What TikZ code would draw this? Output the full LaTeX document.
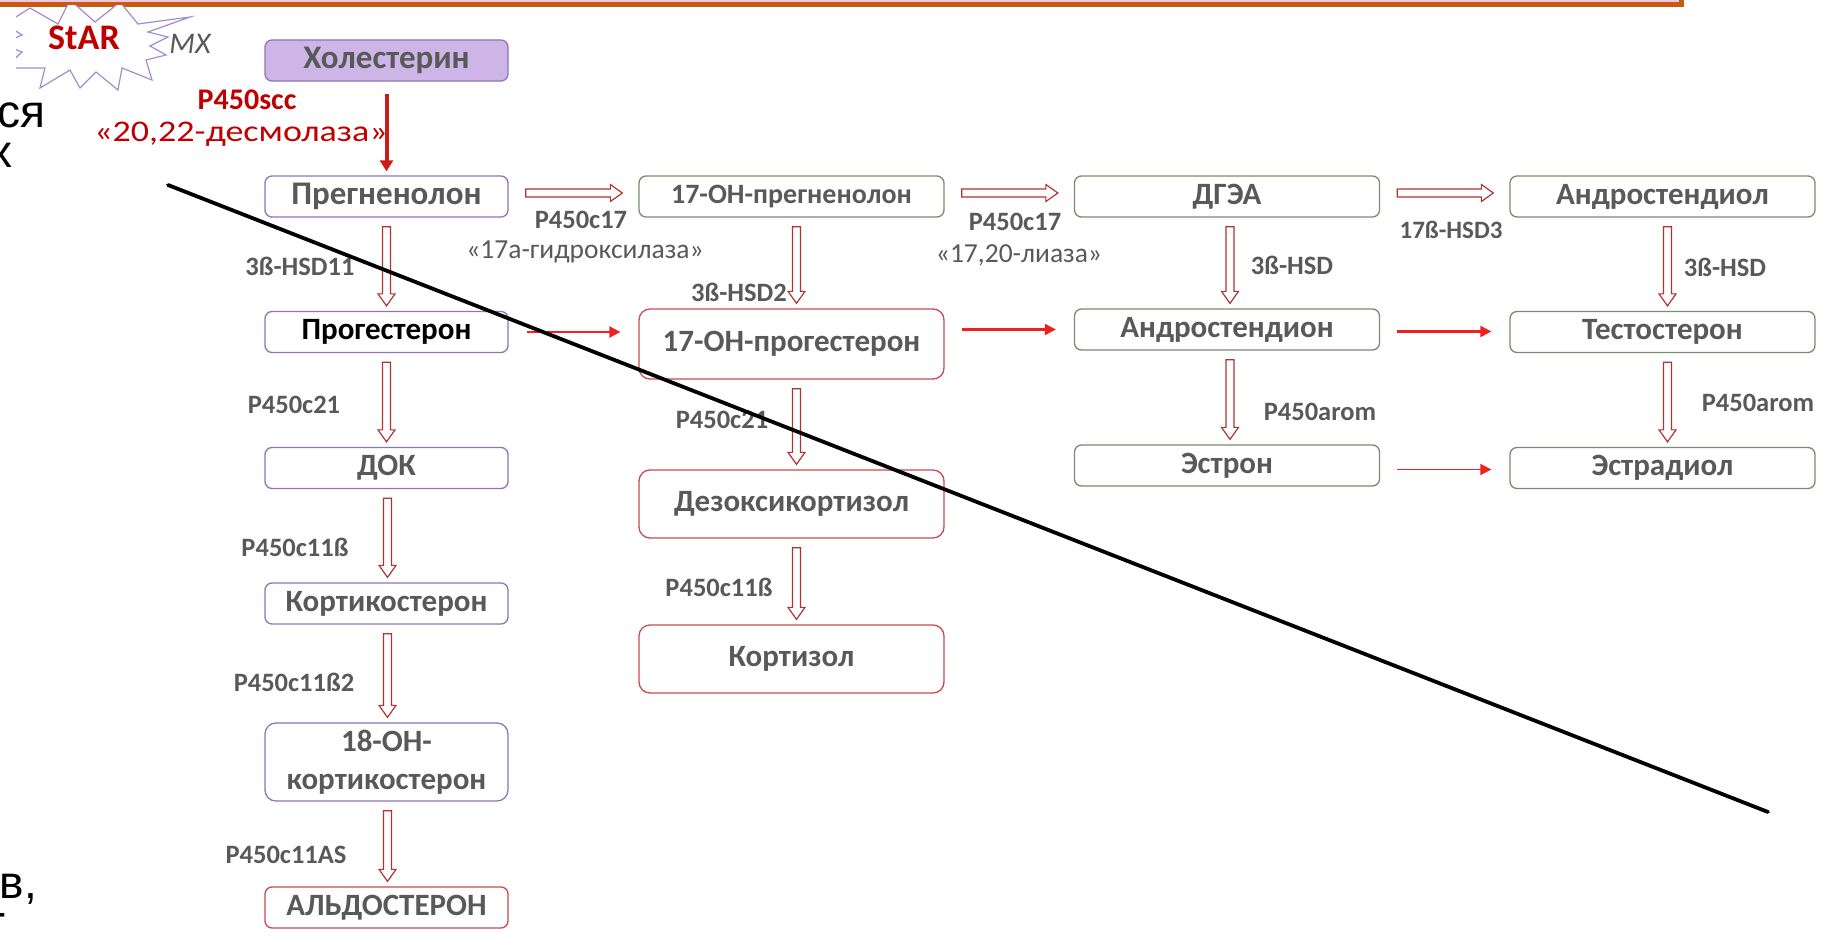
\documentclass[tikz,border=0pt]{standalone}
\usepackage{fontspec}
\usepackage{graphicx}
\setmainfont{Carlito}
\newfontfamily\arialf{Liberation Sans}
\usetikzlibrary{arrows.meta,calc}
\definecolor{txtgray}{HTML}{595959}
\definecolor{purpb}{HTML}{8E74B8}
\definecolor{purpfill}{HTML}{CDB5E8}
\definecolor{greenb}{HTML}{7A8C6E}
\definecolor{redb}{HTML}{C94A50}
\definecolor{holred}{HTML}{B03434}
\definecolor{brightred}{HTML}{F02020}
\definecolor{darkred}{HTML}{C00000}
\definecolor{barorange}{HTML}{C55A11}
\definecolor{barpink}{HTML}{F2C6DE}
\definecolor{starc}{HTML}{A48BD0}
\newcommand\hdown[3]{%
 \draw[holl] let \p1=(#1.south), \p2=(#2.north) in
   (\x1+#3-4pt,\y1-9pt) -- (\x1+#3-4pt,\y2+17pt) -- (\x1+#3-8.5pt,\y2+17pt) --
   (\x1+#3,\y2+5pt) -- (\x1+#3+8.5pt,\y2+17pt) -- (\x1+#3+4pt,\y2+17pt) --
   (\x1+#3+4pt,\y1-9pt) -- cycle;}
\newcommand\hright[2]{%
 \draw[holl] let \p1=(#1.east), \p2=(#2.west) in
   (\x1+17pt,\y1+7.5pt) -- (\x2-28pt,\y1+7.5pt) -- (\x2-28pt,\y1+12pt) --
   (\x2-16pt,\y1+3.5pt) -- (\x2-28pt,\y1-5pt) -- (\x2-28pt,\y1-0.5pt) --
   (\x1+17pt,\y1-0.5pt) -- cycle;}
\tikzset{
  box/.style={rectangle, rounded corners=7pt, line width=1.3pt, inner sep=0pt,
    font=\bfseries\fontsize{31}{38}\selectfont, text=txtgray, align=center},
  pbox/.style={box, draw=purpb, minimum width=243pt, minimum height=41pt},
  gbox/.style={box, draw=greenb, minimum width=305pt, minimum height=41pt},
  rbox/.style={box, draw=redb, minimum width=305pt, minimum height=69pt, rounded corners=11pt},
  enz/.style={inner sep=0pt, font=\bfseries\fontsize{26.5}{30}\selectfont, text=txtgray},
  ann/.style={inner sep=0pt, font=\fontsize{27.5}{30}\selectfont, text=txtgray},
  holl/.style={draw=holred, fill=white, line width=1.2pt, line join=miter},
  redarr/.style={draw=brightred, line width=2.2pt, -{Triangle[width=11pt,length=11pt]}},
  frag/.style={inner sep=0pt, font=\arialf\fontsize{46}{50}\selectfont, text=black},
}
\begin{document}
\begin{tikzpicture}[x=1pt,y=-1pt]
\useasboundingbox (0,0) rectangle (1823,942);
\fill[white] (0,0) rectangle (1823,942);
% top bar
\fill[barpink] (0,-5) rectangle (1681,3);
\draw[barorange, line width=5pt] (-5,4.5) -- (1681,4.5) -- (1681,-5);
% starburst
\begin{scope}
\clip (16,6) rectangle (300,100);
\draw[starc, line width=1.2pt, fill=white] (30,8) -- (58,24) -- (70,0) -- (95,22) -- (120,2) -- (138,24)
  -- (190,17) -- (148,32) -- (168,37) -- (150,46) -- (166,55) -- (146,60) -- (152,80) -- (122,68)
  -- (118,90) -- (96,72) -- (80,88) -- (70,70) -- (40,88) -- (45,68) -- (5,68) -- (22,52)
  -- (2,44) -- (22,35) -- (5,24) -- cycle;
\end{scope}
\node[inner sep=0pt, font=\bfseries\fontsize{36}{40}\selectfont, text=darkred] (star) at (84,38) {StAR};
\node[inner sep=0pt, font=\itshape\fontsize{30}{34}\selectfont, text=txtgray] (mx) at (190,44) {MX};
% left fragments
\node[frag, anchor=base east] (f1) at (46,127) {ся};
\node[frag, anchor=base east] (f2) at (13,167) {х};
\node[frag, anchor=base east] (f3) at (37,898) {в,};
\node[frag, anchor=base east] (f4) at (7,927) {-};
% column 1
\node[pbox, fill=purpfill, font=\bfseries\fontsize{33}{38}\selectfont] (chol) at (386.5,60.5) {Холестерин};
\node[pbox, font=\bfseries\fontsize{33}{38}\selectfont] (preg) at (386.5,196.5) {Прегненолон};
\node[pbox, text=black] (prog) at (386.5,332) {Прогестерон};
\node[pbox] (dok) at (386.5,468) {ДОК};
\node[pbox] (kst) at (386.5,603.5) {Кортикостерон};
\node[pbox, minimum height=78pt, rounded corners=11pt] (oh18) at (386.5,762) {18-OH-\\кортикостерон};
\node[pbox, draw=redb] (aldo) at (386.5,907.5) {АЛЬДОСТЕРОН};
% column 2
\node[gbox, font=\bfseries\fontsize{28}{34}\selectfont] (ohpreg) at (791.5,196.5) {17-OH-прегненолон};
\node[rbox, minimum height=70pt] (ohprog) at (791.5,344) {17-OH-прогестерон};
\node[rbox, minimum height=68pt] (dezoxy) at (791.5,504) {Дезоксикортизол};
\node[rbox, minimum height=68pt] (kortizol) at (791.5,659) {Кортизол};
% column 3
\node[gbox] (dgea) at (1227,196.5) {ДГЭА};
\node[gbox] (andron) at (1227,329.5) {Андростендион};
\node[gbox] (estron) at (1227,465.5) {Эстрон};
% column 4
\node[gbox] (androl) at (1662.5,196.5) {Андростендиол};
\node[gbox] (testo) at (1662.5,332) {Тестостерон};
\node[gbox] (estrad) at (1662.5,468) {Эстрадиол};
% cholesterol arrow
\draw[draw=brightred!85!black, line width=4pt, -{Triangle[width=13pt,length=11pt]}] ($(chol.south)+(0,12)$) -- ($(preg.north)+(0,-4)$);
\node[inner sep=0pt, font=\bfseries\fontsize{30}{34}\selectfont, text=darkred] (scc) at (247,100) {P450scc};
\node[inner sep=0pt, anchor=east, font=\fontsize{30}{34}\selectfont, text=darkred] (desm) at (388,134) {\scalebox{1.2}[1]{«20,22-десмолаза»}};
% hollow arrows
\hright{preg}{ohpreg}
\hright{ohpreg}{dgea}
\hright{dgea}{androl}
\hdown{preg}{prog}{0pt}
\hdown{prog}{dok}{0pt}
\hdown{dok}{kst}{1pt}
\hdown{kst}{oh18}{1pt}
\hdown{oh18}{aldo}{1pt}
\hdown{ohpreg}{ohprog}{5pt}
\hdown{ohprog}{dezoxy}{5pt}
\hdown{dezoxy}{kortizol}{5pt}
\hdown{dgea}{andron}{3pt}
\hdown{andron}{estron}{3pt}
\hdown{androl}{testo}{5pt}
\hdown{testo}{estrad}{5pt}
% red solid arrows
\draw[redarr] ($(prog.east)+(18,0)$) -- ($(ohprog.west|-prog.east)+(-18,0)$);
\draw[redarr] ($(ohprog.east|-andron.west)+(17,0)$) -- ($(andron.west)+(-18,0)$);
\draw[redarr] ($(andron.east)+(17,2)$) -- ($(testo.west|-andron.east)+(-18,2)$);
\draw[redarr, line width=1.6pt] ($(estron.east)+(17,4)$) -- ($(estrad.west|-estron.east)+(-18,4)$);
% enzyme labels
\node[enz] (l1) at (581,220) {P450c17};
\node[ann] (a1) at (585,252) {«17а-гидроксилаза»};
\node[enz] (l2) at (1015,222) {P450c17};
\node[ann] (a2) at (1019,255) {«17,20-лиаза»};
\node[enz, font=\bfseries\fontsize{25}{30}\selectfont] (l3) at (1451,230) {17ß-HSD3};
\node[enz] (l4) at (300,266) {3ß-HSD11};
\node[enz] (l5) at (294,405) {P450c21};
\node[enz] (l6) at (295,547) {P450c11ß};
\node[enz] (l7) at (294,682) {P450c11ß2};
\node[enz] (l8) at (286,855) {P450c11AS};
\node[enz] (l9) at (739,292) {3ß-HSD2};
\node[enz] (l10) at (722,420) {P450c21};
\node[enz] (l11) at (719,587) {P450c11ß};
\node[enz] (l12) at (1292,265) {3ß-HSD};
\node[enz] (l13) at (1320,412) {P450arom};
\node[enz] (l14) at (1725,267) {3ß-HSD};
\node[enz] (l15) at (1758,403) {P450arom};
% diagonal line
\coordinate (d1) at (168,185);
\coordinate (d2) at (1768,812);
\draw[line width=3.8pt, line cap=round] (d1) -- (d2);
\end{tikzpicture}
\end{document}
